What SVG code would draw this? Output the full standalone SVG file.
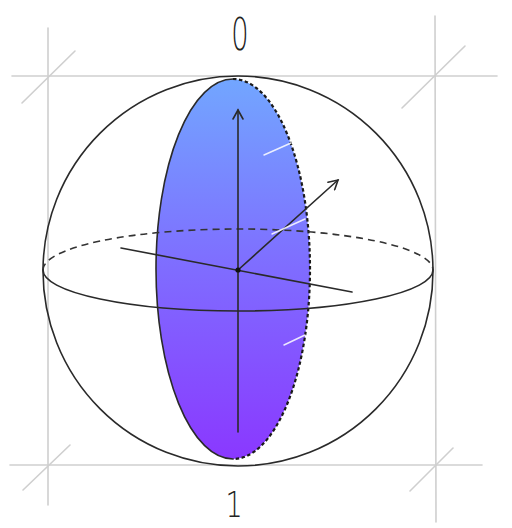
<svg xmlns="http://www.w3.org/2000/svg" width="512" height="528" viewBox="0 0 512 528">
<defs>
<style>
.grid{stroke:#cfcfcf;stroke-width:1.6;fill:none;stroke-linecap:round}
.ink{stroke:#2a2a2a;stroke-width:1.6;fill:none;stroke-linecap:round}
.dash{stroke:#333;stroke-width:1.6;fill:none;stroke-dasharray:7 5}
.dot{stroke:#1a1a1a;stroke-width:2.2;fill:none;stroke-dasharray:3.5 2.5}
.hl{stroke:#ffffff;stroke-width:1.5;fill:none;stroke-linecap:round;opacity:0.85}
.lbl{font-family:"DejaVu Sans",sans-serif;font-weight:200;fill:#222;text-anchor:middle}
</style>
<linearGradient id="g" x1="0" y1="0" x2="0" y2="1">
<stop offset="0" stop-color="#72a6ff"/>
<stop offset="0.5" stop-color="#7f6cff"/>
<stop offset="1" stop-color="#8a38ff"/>
</linearGradient>
<marker id="ah" viewBox="0 0 12 12" refX="10" refY="6" markerWidth="12" markerHeight="12" markerUnits="userSpaceOnUse" orient="auto">
<path d="M1,1 L10,6 L1,11" fill="none" stroke="#2a2a2a" stroke-width="1.6" stroke-linecap="round"/>
</marker>
</defs>
<g id="grid">
<line class="grid" x1="48" y1="28" x2="48" y2="505"/>
<line class="grid" x1="435" y1="16" x2="436" y2="522"/>
<line class="grid" x1="12" y1="76" x2="497" y2="76"/>
<line class="grid" x1="10" y1="465" x2="482" y2="465"/>
<line class="grid" x1="22" y1="103" x2="75" y2="51"/>
<line class="grid" x1="402" y1="108" x2="465" y2="46"/>
<line class="grid" x1="23" y1="490" x2="70" y2="445"/>
<line class="grid" x1="410" y1="491" x2="453" y2="448"/>
</g>
<g id="sphere">
<circle class="ink" cx="238" cy="271" r="195" stroke-width="1.4"/>
</g>
<g id="meridian">
<ellipse cx="233" cy="269" rx="77" ry="190" fill="url(#g)"/>
<path class="ink" d="M233,79 A77,190 0 0 0 233,459"/>
<path class="dot" d="M233,79 A77,190 0 0 1 233,459"/>
</g>
<g id="equator">
<path class="dash" d="M43,270 A195,41 0 0 1 433,270"/>
<path class="ink" stroke-width="2" d="M43,270 A195,41 0 0 0 433,270"/>
</g>
<g id="connectors">
<line class="ink" x1="238" y1="270" x2="238" y2="110" marker-end="url(#ah)"/>
<line class="ink" x1="238" y1="270" x2="238" y2="432"/>
<line class="ink" x1="121" y1="248" x2="352" y2="292" stroke="#444"/>
<line class="ink" x1="238" y1="270" x2="338" y2="180" marker-end="url(#ah)"/>
<circle cx="238" cy="270" r="2.6" fill="#111"/>
</g>
<g id="highlights">
<line class="hl" x1="264" y1="155" x2="291" y2="143"/>
<line class="hl" x1="272" y1="234" x2="305" y2="219"/>
<line class="hl" x1="284" y1="345" x2="305" y2="335"/>
</g>
<g id="labels">
<text class="lbl" x="0" y="0" font-size="44" transform="translate(240,50) scale(0.62,1)">0</text>
<text class="lbl" x="0" y="0" font-size="36" transform="translate(234,517) scale(0.75,1)">1</text>
</g>
</svg>
